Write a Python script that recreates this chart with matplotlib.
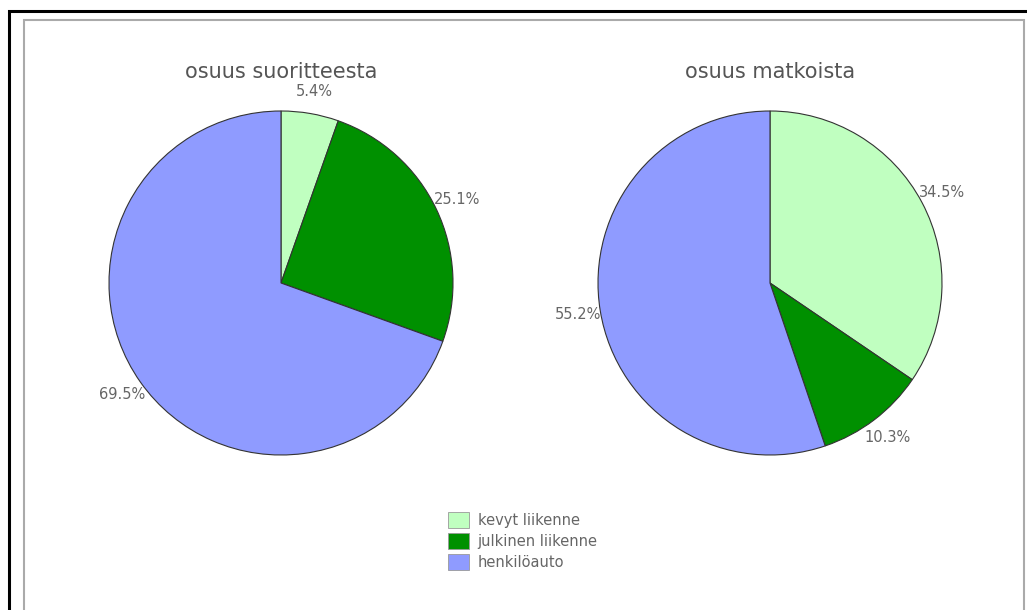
import matplotlib
matplotlib.use("Agg")
import matplotlib.pyplot as plt
from matplotlib.patches import Rectangle, Patch

# data
categories = ["kevyt liikenne", "julkinen liikenne", "henkilöauto"]
suorite = [5.4, 25.1, 69.5]
matkat = [34.5, 10.3, 55.2]
titles = ["osuus suoritteesta", "osuus matkoista"]
colors = ["#c0ffc0", "#009000", "#8f9bff"]

W, H = 1027, 610
fig = plt.figure(figsize=(W / 100, H / 100), dpi=100)

# frames
fig.patches.append(Rectangle((9 / W, -0.05), 1.1, 1 - 11 / H + 0.05, transform=fig.transFigure,
                             fill=False, edgecolor="black", linewidth=2.2))
fig.patches.append(Rectangle((24 / W, -0.05), 1000 / W, 1 - 20 / H + 0.05, transform=fig.transFigure,
                             fill=False, edgecolor="#aaaaaa", linewidth=1.5))

r = 172
cy = 283
for cx, vals, title in zip([281, 770], [suorite, matkat], titles):
    ax = fig.add_axes([(cx - r) / W, (H - cy - r) / H, 2 * r / W, 2 * r / H])
    ax.pie(vals, colors=colors, startangle=90, counterclock=False,
           wedgeprops=dict(edgecolor="#333333", linewidth=0.8),
           autopct=lambda p: f"{p:.1f}%", pctdistance=1.13,
           textprops=dict(color="#666666", fontsize=10.5))
    ax.set_xlim(-1, 1)
    ax.set_ylim(-1, 1)
    fig.text(cx / W, 1 - 72 / H, title, ha="center", va="center",
             fontsize=15, color="#555555")

handles = [Patch(facecolor=c, edgecolor="#999999", linewidth=0.6) for c in colors]
fig.legend(handles, categories, loc="center", bbox_to_anchor=(523 / W, 1 - 541 / H),
           frameon=False, fontsize=10.5, labelcolor="#666666",
           handlelength=1.4, handleheight=1.3, labelspacing=0.35, handletextpad=0.6)

fig.savefig("out.png", dpi=100, facecolor="white")
